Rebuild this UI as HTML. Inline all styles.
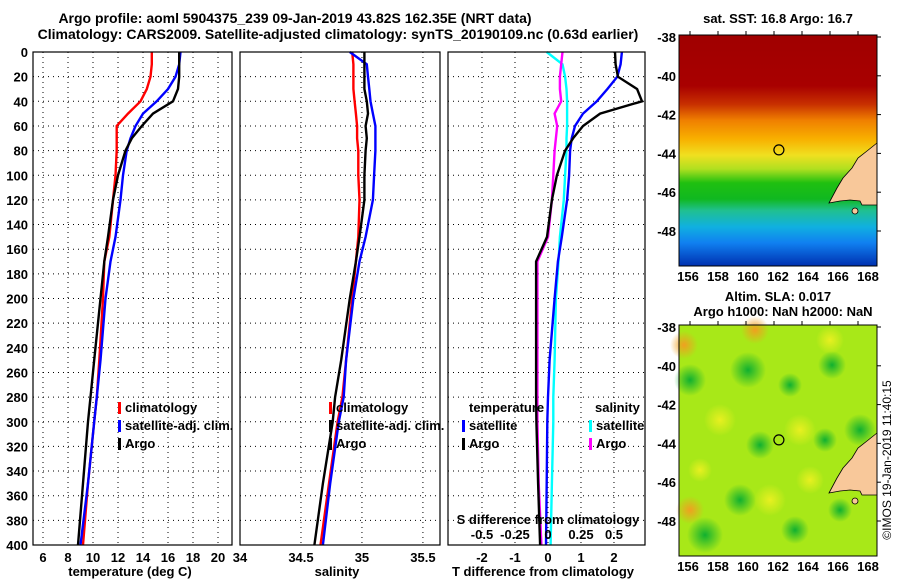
<!DOCTYPE html>
<html><head><meta charset="utf-8"><style>
body{margin:0;background:#fff;}
svg{display:block;font-family:"Liberation Sans",sans-serif;font-weight:bold;}
</style></head><body>
<svg id="fig" width="900" height="580" viewBox="0 0 900 580">
<defs>
<linearGradient id="sstg" x1="0" y1="0" x2="0" y2="1">
<stop offset="0" stop-color="#a00000"/><stop offset="0.22" stop-color="#a80000"/>
<stop offset="0.3" stop-color="#c83000"/><stop offset="0.37" stop-color="#f08000"/>
<stop offset="0.45" stop-color="#f8b000"/><stop offset="0.52" stop-color="#f0e020"/>
<stop offset="0.58" stop-color="#b0e020"/><stop offset="0.64" stop-color="#20c010"/>
<stop offset="0.71" stop-color="#10b820"/><stop offset="0.76" stop-color="#20c090"/>
<stop offset="0.83" stop-color="#10b0e0"/><stop offset="0.9" stop-color="#1080f0"/>
<stop offset="1" stop-color="#0030b0"/>
</linearGradient>
<radialGradient id="ylw"><stop offset="0" stop-color="#e8f020"/><stop offset="1" stop-color="#e8f020" stop-opacity="0"/></radialGradient>
<radialGradient id="org"><stop offset="0" stop-color="#f0a020"/><stop offset="1" stop-color="#f0a020" stop-opacity="0"/></radialGradient>
<radialGradient id="grn"><stop offset="0" stop-color="#10b030"/><stop offset="1" stop-color="#10b030" stop-opacity="0"/></radialGradient>
</defs>
</svg>
<script>
// ---- data ----
const tDepth=[0,10,20,30,40,50,60,70,80,100,120,150,170,200,250,280,300,350,400];
const tClim=[14.7,14.7,14.6,14.3,13.8,12.8,11.9,11.9,11.9,11.8,11.6,11.3,10.9,10.8,10.5,10.3,10.1,9.6,9.2];
const tSat=[17.0,16.9,16.6,16.0,15.1,14.0,13.4,13.0,12.7,12.4,12.2,11.8,11.4,11.0,10.6,10.3,10.1,9.6,9.0];
const tArgo=[16.9,16.9,16.9,16.8,16.4,14.8,13.9,13.1,12.6,12.0,11.6,11.2,10.9,10.6,10.1,9.8,9.6,9.2,8.8];
const sClim=[34.92,34.93,34.93,34.93,34.94,34.95,34.96,34.96,34.97,34.97,34.98,34.97,34.95,34.92,34.87,34.84,34.80,34.73,34.66];
const sSat=[34.90,35.04,35.05,35.06,35.07,35.09,35.11,35.11,35.11,35.10,35.09,35.03,34.98,34.93,34.87,34.85,34.81,34.74,34.68];
const sArgo=[35.02,35.02,35.02,35.02,35.04,35.05,35.03,35.04,35.03,35.02,35.02,34.98,34.95,34.90,34.83,34.78,34.76,34.68,34.61];
const dTSat=[2.24,2.2,2.1,1.8,1.48,1.06,0.82,0.72,0.67,0.64,0.58,0.42,0.3,0.2,0.05,0.0,-0.02,-0.04,-0.06];
const dTArgo=[2.03,2.05,2.12,2.7,2.85,1.58,1.06,0.76,0.52,0.27,0.12,-0.03,-0.36,-0.36,-0.36,-0.36,-0.35,-0.3,-0.24];
const dSSat=[-0.01,0.11,0.13,0.14,0.145,0.145,0.145,0.14,0.14,0.13,0.12,0.09,0.08,0.06,0.05,0.04,0.04,0.03,0.02];
const dSArgo=[0.11,0.10,0.09,0.09,0.10,0.05,0.07,0.06,0.05,0.04,0.03,0.0,-0.08,-0.08,-0.08,-0.08,-0.08,-0.07,-0.05];
const depthTicks=[0,20,40,60,80,100,120,140,160,180,200,220,240,260,280,300,320,340,360,380,400];
const tTicks=[6,8,10,12,14,16,18,20];
const sTicks=[34,34.5,35,35.5];
const dTicks=[-2,-1,0,1,2];
const dSTickLabels=["-0.5","-0.25","0","0.25","0.5"];
const dSTicks=[-0.5,-0.25,0,0.25,0.5];
const latTicks=[-38,-40,-42,-44,-46,-48];
const lonTicks=[156,158,160,162,164,166,168];
const argoLon=162.35, argoLat=-43.82;

const NS="http://www.w3.org/2000/svg";
const svg=document.getElementById('fig');
function el(tag,attrs,parent,text){const e=document.createElementNS(NS,tag);for(const k in attrs)e.setAttribute(k,attrs[k]);if(text!==undefined)e.textContent=text;(parent||svg).appendChild(e);return e;}
const y0=52,y1=545;
const yD=d=>y0+(d/400)*(y1-y0);
const panels=[{x0:33,x1:232,v0:5.2,v1:21.12},{x0:240,x1:440,v0:34,v1:35.64},{x0:448,x1:645,v0:-3.03,v1:2.94}];
const sx=(p,v)=>p.x0+(v-p.v0)/(p.v1-p.v0)*(p.x1-p.x0);
const sxS=v=>sx(panels[2],v*4);

function grid(p,ticks,name){
  const g=el('g',{});
  
  depthTicks.forEach(d=>{if(d>0&&d<400)el('line',{x1:p.x0,x2:p.x1,y1:yD(d),y2:yD(d),stroke:'#000','stroke-dasharray':'1,4','stroke-width':1},g);});
  ticks.forEach(v=>{const x=sx(p,v);if(x>p.x0+1&&x<p.x1-1)el('line',{x1:x,x2:x,y1:y0,y2:y1,stroke:'#000','stroke-dasharray':'1,4','stroke-width':1},g);});
}
function frame(p,name){const r=el('rect',{x:p.x0,y:y0,width:p.x1-p.x0,height:y1-y0,fill:'none',stroke:'#000','stroke-width':1.2});
  }
function line(vals,xf,color,name){
  const pts=vals.map((v,i)=>xf(v).toFixed(1)+','+yD(tDepth[i]).toFixed(1)).join(' ');
  const l=el('polyline',{points:pts,fill:'none',stroke:color,'stroke-width':2.4});
  }

grid(panels[0],tTicks,'temperature');grid(panels[1],sTicks,'salinity');grid(panels[2],dTicks,'difference');
line(tClim,v=>sx(panels[0],v),'#f00','temp-climatology-line');
line(tSat,v=>sx(panels[0],v),'#00f','temp-satellite-line');
line(tArgo,v=>sx(panels[0],v),'#000','temp-argo-line');
line(sClim,v=>sx(panels[1],v),'#f00','sal-climatology-line');
line(sSat,v=>sx(panels[1],v),'#00f','sal-satellite-line');
line(sArgo,v=>sx(panels[1],v),'#000','sal-argo-line');
line(dSSat,sxS,'#0ff','sdiff-satellite-line');
line(dSArgo,sxS,'#f0f','sdiff-argo-line');
line(dTSat,v=>sx(panels[2],v),'#00f','tdiff-satellite-line');
line(dTArgo,v=>sx(panels[2],v),'#000','tdiff-argo-line');
frame(panels[0],'temperature-panel');frame(panels[1],'salinity-panel');frame(panels[2],'difference-panel');

depthTicks.forEach(d=>{const t=el('text',{x:28,y:yD(d)+5,'text-anchor':'end','font-size':13},svg,String(d));
  });
function xticks(p,ticks,labels,y,name){ticks.forEach((v,i)=>{const t=el('text',{x:sx(p,v),y:y,'text-anchor':'middle','font-size':13},svg,labels?labels[i]:String(v));
  });}
xticks(panels[0],tTicks,null,562,'temp-tick-label');
xticks(panels[1],sTicks,null,562,'sal-tick-label');
xticks(panels[2],dTicks,null,562,'tdiff-tick-label');
dSTicks.forEach((v,i)=>{const t=el('text',{x:sxS(v),y:539,'text-anchor':'middle','font-size':13},svg,dSTickLabels[i]);
  });
function txt(x,y,s,name,anchor,size,extra){const t=el('text',Object.assign({x:x,y:y,'text-anchor':anchor||'start','font-size':size||13},extra||{}),svg,s);
  return t;}
txt(548,524,'S difference from climatology','sdiff-axis-title','middle');
txt(130,576,'temperature (deg C)','temp-axis-title','middle');
txt(337,576,'salinity','sal-axis-title','middle');
txt(543,576,'T difference from climatology','tdiff-axis-title','middle');
txt(295,23,'Argo profile: aoml 5904375_239 09-Jan-2019 43.82S 162.35E (NRT data)','title-line-1','middle',14);
txt(338,39,'Climatology: CARS2009. Satellite-adjusted climatology: synTS_20190109.nc (0.63d earlier)','title-line-2','middle',14);

function leg(x,y,color,label,name){const r=el('rect',{x:x,y:y-10,width:3,height:12,fill:color});
  
  txt(x+7,y,label,name,'start',13);}
leg(118,412,'#f00','climatology','legend-temp-climatology');
leg(118,430,'#00f','satellite-adj. clim.','legend-temp-satellite');
leg(118,448,'#000','Argo','legend-temp-argo');
leg(329,412,'#f00','climatology','legend-sal-climatology');
leg(329,430,'#000','satellite-adj. clim.','legend-sal-satellite');
leg(329,448,'#000','Argo','legend-sal-argo');
txt(469,412,'temperature','legend-temp-title');
leg(462,430,'#00f','satellite','legend-tdiff-satellite');
leg(462,448,'#000','Argo','legend-tdiff-argo');
txt(595,412,'salinity','legend-sal-title');
leg(589,430,'#0ff','satellite','legend-sdiff-satellite');
leg(589,448,'#f0f','Argo','legend-sdiff-argo');

// maps
const maps=[{x0:679,x1:877,y0:35,y1:266,name:'sst-map'},{x0:679,x1:877,y0:325,y1:556,name:'sla-map'}];
const mx=lon=>690+(lon-156)*14;
const myF=(m,lat)=>m.y0+2+(-38-lat)*19.4;
const m1=maps[0];
let r=el('rect',{x:m1.x0,y:m1.y0,width:198,height:231,fill:'url(#sstg)'});

const m2=maps[1];
r=el('rect',{x:m2.x0,y:m2.y0,width:198,height:231,fill:'#a8e818'});

const blobs=[[684,345,'org',14],[690,510,'org',14],[755,330,'org',14],[690,380,'grn',16],[748,370,'grn',18],[790,385,'grn',12],[832,365,'grn',14],[760,445,'grn',14],[825,440,'grn',12],[740,500,'grn',16],[705,535,'grn',18],[795,530,'grn',14],[840,510,'grn',12],[860,430,'grn',16],[720,420,'ylw',16],[800,430,'ylw',16],[830,340,'ylw',14],[770,500,'ylw',16],[810,480,'ylw',14],[700,470,'ylw',12]];
blobs.forEach(b=>{const c=el('circle',{cx:b[0],cy:b[1],r:b[3],fill:'url(#'+b[2]+')'});});
const landPts=[[877,108],[867,116],[858,123],[852,133],[843,143],[837,153],[829,168],[840,166],[850,165],[860,166],[862,170],[877,170]];
maps.forEach(m=>{
  const land=el('polygon',{points:landPts.map(p=>p[0]+','+(m.y0+p[1])).join(' '),fill:'#f8c89a',stroke:'#000','stroke-width':0.8});
  
  const isl=el('circle',{cx:855,cy:m.y0+176,r:3,fill:'#f8c89a',stroke:'#000','stroke-width':0.8});
  
  const c=el('circle',{cx:mx(argoLon),cy:myF(m,argoLat),r:5,fill:'none',stroke:'#000','stroke-width':1.2});
  
  const f=el('rect',{x:m.x0,y:m.y0,width:m.x1-m.x0,height:m.y1-m.y0,fill:'none',stroke:'#000'});
  
  latTicks.forEach(l=>{const y=myF(m,l);el('line',{x1:m.x1,x2:m.x1+4,y1:y,y2:y,stroke:'#000'});txt(m.x0-3,y+5,String(l),'lat-tick-label','end',13);});
  lonTicks.forEach((l,i)=>{el('line',{x1:mx(l),x2:mx(l),y1:m.y0,y2:m.y0-4,stroke:'#000'});txt(688+i*30,m.y1+15,String(l),'lon-tick-label','middle',13);});
});
txt(778,23,'sat. SST: 16.8 Argo: 16.7','sst-map-title','middle');
txt(778,301,'Altim. SLA: 0.017','sla-map-title','middle');
txt(783,316,'Argo h1000: NaN h2000: NaN','argo-height-title','middle');
txt(0,0,'©IMOS 19-Jan-2019 11:40:15','timestamp-credit','middle',12,{transform:'translate(891,460) rotate(-90)',"font-weight":'normal'});
</script>
</body></html>
